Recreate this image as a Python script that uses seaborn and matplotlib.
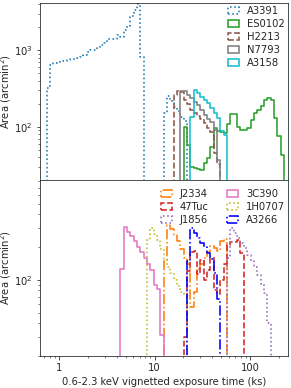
import numpy as np
import matplotlib
matplotlib.use("Agg")
import matplotlib.pyplot as plt
from matplotlib.patches import Patch
from matplotlib.ticker import FuncFormatter, NullFormatter
import seaborn as sns

# ---- common log-spaced exposure bins (log10 of ks) ----
BIN_LOG_START = -0.13
BIN_DEX = 0.035

# ---- series: index of first bin, area per bin (arcmin^2) ----
a3391_first = 0
a3391_area = [320, 630, 684, 700, 710, 725, 740, 755, 776, 800,
              818, 861, 954, 1000, 1010, 1050, 1160, 1245, 1380, 1400,
              1415, 1590, 1480, 1820, 2050, 2820, 3310, 3950, 820,
              0, 0, 0, 0, 0, 0,
              150, 255, 215, 180, 160, 135, 118]
es0102_first = 41
es0102_area = [100, 58, 30, 29, 28, 27, 34, 39, 55, 95,
               88, 86, 82, 108, 146, 146, 100, 90, 90, 95,
               123, 150, 166, 184, 224, 236, 224, 130, 75, 43]
h2213_first = 38
h2213_area = [260, 290, 285, 225, 200, 165, 150, 140, 128, 113, 96, 85, 45, 33]
n7793_first = 40
n7793_area = [295, 290, 260, 236, 213, 190, 165, 143, 128, 117, 90, 37]
a3158_first = 43
a3158_area = [136, 300, 274, 247, 224, 203, 175, 150, 130, 87, 79]

j2334_first = 35
j2334_area = [150, 320, 290, 255, 225, 190, 160, 140, 56, 78,
              125, 140, 160, 180, 205, 195, 185, 225, 235]
tuc47_first = 41
tuc47_area = [30, 120, 180, 185, 114, 152, 100, 122, 157, 80,
              74, 100, 140, 209, 224, 224, 232, 175]
j1856_first = 54
j1856_area = [160, 300, 270, 240, 216, 194, 168, 150, 131, 110, 92, 75, 40]
c3c390_first = 22
c3c390_area = [125, 305, 277, 250, 225, 200, 178, 160, 140, 122, 90, 83, 31]
h1h0707_first = 30
h1h0707_area = [230, 298, 265, 230, 190, 155, 131, 115, 100, 87, 78, 74]
a3266_first = 42
a3266_area = [150, 298, 270, 241, 216, 200, 175, 155, 115, 67]

top_names = ["A3391", "ES0102", "H2213", "N7793", "A3158"]
bottom_names = ["J2334", "47Tuc", "J1856", "3C390", "1H0707", "A3266"]

series = {
    "A3391": (a3391_first, a3391_area),
    "ES0102": (es0102_first, es0102_area),
    "H2213": (h2213_first, h2213_area),
    "N7793": (n7793_first, n7793_area),
    "A3158": (a3158_first, a3158_area),
    "J2334": (j2334_first, j2334_area),
    "47Tuc": (tuc47_first, tuc47_area),
    "J1856": (j1856_first, j1856_area),
    "3C390": (c3c390_first, c3c390_area),
    "1H0707": (h1h0707_first, h1h0707_area),
    "A3266": (a3266_first, a3266_area),
}

styles = {
    "A3391": ("#1f77b4", ":"),
    "ES0102": ("#2ca02c", "-"),
    "H2213": ("#8c564b", "--"),
    "N7793": ("#7f7f7f", "-"),
    "A3158": ("#17becf", "-"),
    "J2334": ("#ff7f0e", "-."),
    "47Tuc": ("#d62728", "--"),
    "J1856": ("#9467bd", ":"),
    "3C390": ("#e377c2", "-"),
    "1H0707": ("#bcbd22", ":"),
    "A3266": ("blue", "-."),
}

sns.set_style("ticks")
plt.rcParams["font.family"] = ["DejaVu Sans"]
plt.rcParams["font.size"] = 10

DPI = 72
fig, (ax1, ax2) = plt.subplots(2, 1, sharex=True,
                               figsize=(291 / DPI, 388 / DPI), dpi=DPI)
fig.subplots_adjust(left=0.1375, right=0.9897, top=0.992, bottom=0.0825,
                    hspace=0)

LW = 1.6
FLOOR = 1e-3  # empty bins drawn just above zero so log axis keeps the drop


def draw(ax, name):
    first, area = series[name]
    vals = np.concatenate([[0.0], np.asarray(area, float), [0.0]])
    vals = np.where(vals > 0, vals, FLOOR)
    idx = np.arange(first - 1, first + len(area) + 2)
    log_edges = BIN_LOG_START + BIN_DEX * idx
    centers = 10 ** ((log_edges[:-1] + log_edges[1:]) / 2)
    color, ls = styles[name]
    sns.histplot(x=centers, weights=vals, bins=[float(e) for e in log_edges],
                 log_scale=(True, True), element="step", fill=False,
                 color=color, linestyle=ls, linewidth=LW, ax=ax)


for n in top_names:
    draw(ax1, n)
for n in bottom_names:
    draw(ax2, n)


def legend(ax, names, ncol, anchor):
    handles = [Patch(facecolor="none", edgecolor=styles[n][0],
                     linestyle=styles[n][1], linewidth=LW, label=n)
               for n in names]
    ax.legend(handles=handles, loc="upper right", ncol=ncol, frameon=False,
              bbox_to_anchor=anchor,
              handlelength=1.1, handletextpad=0.8, borderaxespad=0.1,
              borderpad=0.2, labelspacing=0.3, columnspacing=1.8,
              fontsize=10)


legend(ax1, top_names, 1, (1, 1))
legend(ax2, bottom_names, 2, (1, 0.965))

ax1.set_ylim(20.5, 4100)
ax2.set_ylim(20, 830)
ax2.set_xlim(0.63, 250)

for ax in (ax1, ax2):
    ax.set_ylabel("Area (arcmin$^2$)", labelpad=1)
ax1.set_xlabel("")
ax2.set_xlabel("0.6-2.3 keV vignetted exposure time (ks)")
ax2.xaxis.set_major_formatter(FuncFormatter(lambda v, p: f"{v:g}"))
ax2.xaxis.set_minor_formatter(NullFormatter())

fig.savefig("out.png", dpi=DPI)
